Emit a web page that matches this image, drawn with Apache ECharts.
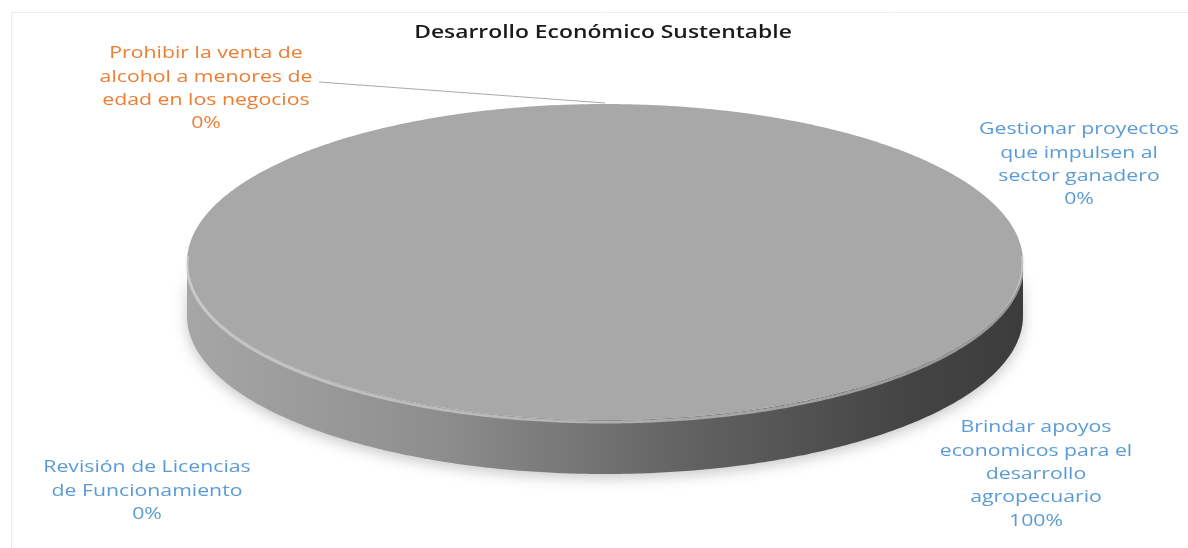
<!DOCTYPE html>
<html>
<head>
<meta charset="utf-8">
<script src="https://cdn.jsdelivr.net/npm/echarts@6/dist/echarts.min.js"></script>
<style>
html,body{margin:0;padding:0;background:#fff;}
#chart{width:1188px;height:548px;}
</style>
</head>
<body>
<div id="chart"></div>
<script>
// ---- data ----
var titleText = 'Desarrollo Económico Sustentable';
var categories = [
  'Revisión de Licencias\nde Funcionamiento',
  'Prohibir la venta de\nalcohol a menores de\nedad en los negocios',
  'Gestionar proyectos\nque impulsen al\nsector ganadero',
  'Brindar apoyos\neconomicos para el\ndesarrollo\nagropecuario'
];
var values = [0, 0, 0, 100];

// ---- layout / style (not data) ----
var labelColors = ['#5b9bd5', '#ed7d31', '#5b9bd5', '#5b9bd5'];
var labelLayout = [
  {x: 147, y: 456, leader: false},
  {x: 206, y: 42, leader: true, lx: 319, ly: 82},
  {x: 1079, y: 118, leader: false},
  {x: 1036, y: 416, leader: false}
];
var pie = {cx: 605, cy: 262, rx: 418, ry: 158, depth: 54};
var FONT = '"Open Sans", "Noto Sans", sans-serif';
var TEXT_STRETCH = 1.25;

var total = values.reduce(function (a, b) { return a + b; }, 0);
var startAngles = [];
(function () {
  var acc = -Math.PI / 2;
  for (var i = 0; i < values.length; i++) {
    startAngles.push(acc);
    acc += values[i] / total * Math.PI * 2;
  }
})();

function pt(a, dy) {
  return [pie.cx + pie.rx * Math.cos(a), pie.cy + pie.ry * Math.sin(a) + (dy || 0)];
}
function arcPts(a0, a1, dy) {
  var n = Math.max(2, Math.ceil(Math.abs(a1 - a0) / 0.01));
  var pts = [];
  for (var k = 0; k <= n; k++) pts.push(pt(a0 + (a1 - a0) * k / n, dy));
  return pts;
}

var chart = echarts.init(document.getElementById('chart'), null, {renderer: 'canvas'});

var seriesData = categories.map(function (c, i) { return {name: c, value: values[i]}; });

chart.setOption({
  backgroundColor: '#ffffff',
  animation: false,
  graphic: [{
    type: 'rect', left: 9, top: 10, silent: true, z: -10,
    shape: {width: 1200, height: 560},
    style: {fill: 'none', stroke: '#ececec', lineWidth: 1}
  }, {
    type: 'text', x: 603, y: 33, scaleX: 1.27, silent: true,
    style: {
      text: titleText, fill: '#1a1a1a',
      fontFamily: FONT, fontSize: 18, fontWeight: 600,
      align: 'center', verticalAlign: 'middle',
      textAlign: 'center', textVerticalAlign: 'middle'
    }
  }],
  series: [{
    type: 'custom',
    coordinateSystem: 'none',
    data: seriesData,
    renderItem: function (params, api) {
      var i = params.dataIndex;
      var v = api.value(0);
      var a0 = startAngles[i];
      var a1 = a0 + v / total * Math.PI * 2;
      var children = [];
      if (v > 0) {
        // side wall (front half only)
        var s0 = Math.max(a0, 0), s1 = Math.min(a1, Math.PI);
        if (s1 > s0) {
          var top = arcPts(s0, s1, 0);
          var bot = arcPts(s1, s0, pie.depth);
          children.push({
            type: 'polygon',
            shape: {points: top.concat(bot)},
            style: {
              fill: new echarts.graphic.LinearGradient(0, 0, 1, 0, [
                {offset: 0, color: '#a6a6a6'},
                {offset: 0.3, color: '#8e8e8e'},
                {offset: 0.6, color: '#626262'},
                {offset: 0.85, color: '#454545'},
                {offset: 1, color: '#3c3c3c'}
              ]),
              shadowBlur: 14, shadowColor: 'rgba(0,0,0,0.22)', shadowOffsetY: 4
            }
          });
        }
        // top face
        var face = arcPts(a0, a1, 0);
        if (a1 - a0 < Math.PI * 2 - 1e-6) face = [[pie.cx, pie.cy]].concat(face);
        children.push({
          type: 'polygon',
          shape: {points: face},
          style: {fill: '#a8a8a8'}
        });
        // bevel highlight along the front edge
        var h0 = Math.max(a0, -0.05), h1 = Math.min(a1, Math.PI + 0.05);
        if (h1 > h0) {
          children.push({
            type: 'polyline',
            shape: {points: arcPts(h0, h1, 2)},
            style: {fill: 'none', stroke: 'rgba(225,225,225,0.55)', lineWidth: 3}
          });
        }
      }
      // label
      var L = labelLayout[i];
      var pct = Math.round(v / total * 100) + '%';
      if (L.leader) {
        var e = pt(a0, 0);
        children.push({
          type: 'line',
          shape: {x1: L.lx, y1: L.ly, x2: e[0], y2: e[1] - 1},
          style: {stroke: '#a6abb0', lineWidth: 1.2}
        });
      }
      children.push({
        type: 'text',
        x: L.x, y: L.y, scaleX: TEXT_STRETCH,
        style: {
          text: categories[i] + '\n' + pct,
          fill: labelColors[i],
          fontFamily: FONT, fontSize: 17,
          align: 'center', verticalAlign: 'top',
          textAlign: 'center', textVerticalAlign: 'top',
          lineHeight: 23.3
        }
      });
      return {type: 'group', children: children};
    }
  }]
});
</script>
</body>
</html>
